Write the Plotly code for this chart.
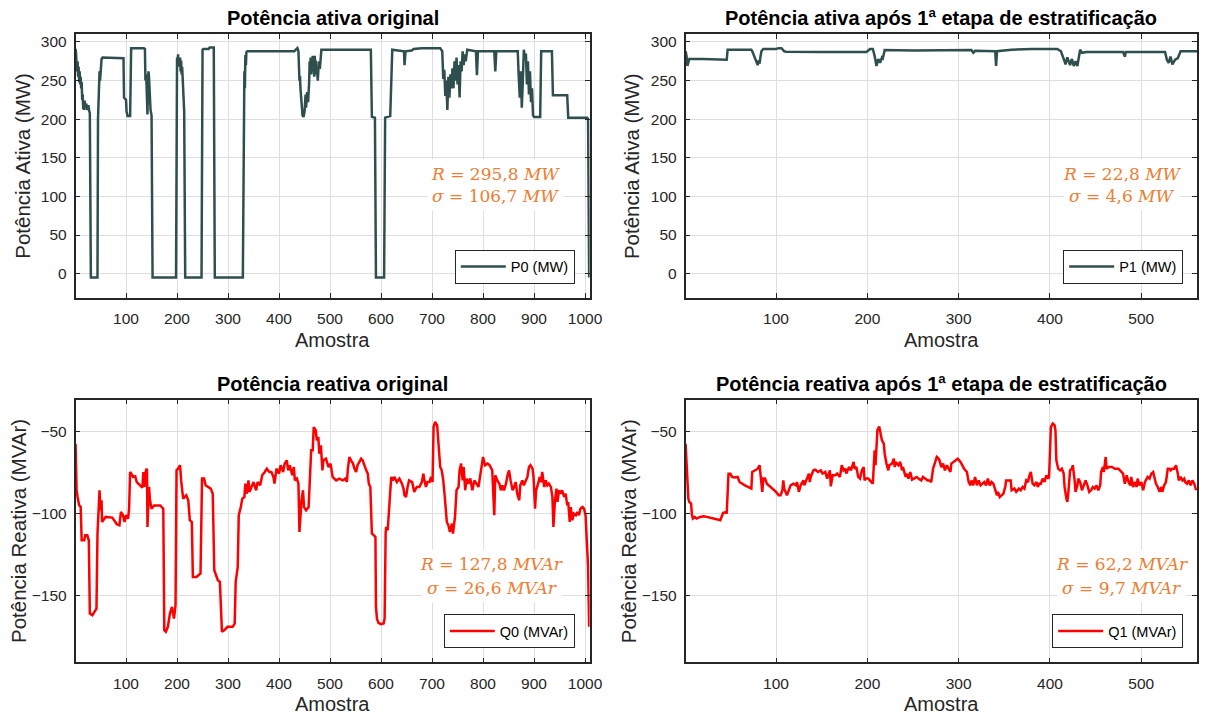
import plotly.graph_objects as go

# ----------------------------- data -----------------------------
p0_x = [1, 2, 3, 4, 5, 6, 7, 8, 9, 10, 11, 12, 13, 14, 15, 16, 17, 18, 19, 20,
        22, 24, 26, 28, 29, 31, 44, 45, 46, 47, 48, 49, 50, 52, 54, 95, 96, 98, 100, 101,
        103, 108, 110, 135, 137, 138, 139, 140, 141, 142, 143, 144, 145, 146, 148, 150, 152, 198, 200, 201,
        202, 203, 204, 205, 206, 207, 208, 209, 210, 211, 212, 214, 216, 248, 250, 252, 262, 264, 272, 274,
        329, 331, 332, 333, 334, 335, 336, 338, 430, 436, 438, 440, 441, 442, 444, 446, 448, 450, 452, 453,
        455, 457, 459, 460, 461, 462, 463, 464, 465, 466, 467, 468, 469, 470, 471, 472, 473, 474, 476, 478,
        480, 483, 580, 582, 588, 590, 606, 608, 618, 622, 645, 646, 648, 660, 664, 680, 700, 716, 720, 722,
        724, 726, 728, 730, 732, 734, 736, 738, 740, 742, 744, 746, 748, 750, 752, 754, 756, 758, 760, 762,
        764, 766, 769, 786, 788, 790, 822, 824, 826, 868, 870, 872, 874, 876, 878, 880, 882, 884, 886, 888,
        890, 892, 894, 896, 898, 900, 912, 914, 935, 937, 965, 967, 1004, 1006, 1008]
p0_y = [291, 285, 270, 262, 275, 255, 268, 248, 262, 245, 255, 240, 248, 225, 232, 213, 222, 212, 224, 215,
        220, 212, 218, 210, 208, -5, -5, 200, 230, 245, 262, 250, 265, 278, 280, 279, 228, 226, 225, 210,
        204, 204, 292, 292, 291, 250, 258, 248, 225, 206, 250, 262, 255, 235, 212, 205, -5, -5, 280, 272,
        284, 268, 278, 270, 280, 262, 276, 258, 268, 252, 248, 210, -5, -5, 290, 291, 291, 293, 293, -5,
        -5, 220, 262, 240, 283, 270, 287, 288, 288, 292, 288, 250, 256, 240, 225, 205, 203, 210, 232, 215,
        235, 222, 248, 275, 260, 280, 258, 273, 268, 282, 262, 270, 255, 282, 264, 276, 258, 266, 250, 275,
        265, 290, 290, 203, 202, -5, -5, 202, 204, 290, 288, 270, 288, 289, 291, 292, 292, 292, 288, 252,
        264, 230, 250, 212, 255, 228, 258, 240, 266, 240, 275, 250, 280, 245, 270, 228, 275, 262, 288, 270,
        284, 275, 290, 288, 257, 288, 288, 262, 288, 288, 255, 228, 262, 215, 250, 290, 280, 285, 245, 275,
        232, 262, 222, 240, 205, 203, 203, 288, 288, 231, 231, 202, 202, 200, -5]

p1_x = [1, 2, 3, 4, 5, 20, 35, 46, 47, 60, 73, 74, 77, 79, 80, 81, 82, 83, 84, 86,
        100, 103, 106, 109, 111, 150, 199, 203, 206, 208, 210, 212, 214, 216, 217, 219, 250, 314, 316, 318,
        340, 341, 342, 358, 380, 408, 412, 416, 417, 419, 422, 424, 426, 428, 430, 433, 435, 440, 480, 482,
        483, 526, 528, 530, 532, 534, 537, 540, 543, 561]
p1_y = [288, 282, 269, 276, 278, 278, 277.5, 277, 290, 290, 290, 288, 280, 273, 270, 276, 272, 281, 288, 291,
        291, 292, 292, 288, 287.5, 287, 287, 291, 291, 282, 269, 278, 273, 280, 279, 289.5, 289, 289.5, 286, 288.5,
        288, 269, 288, 290, 291, 291, 288, 275, 271, 280, 270, 278, 269, 275, 269, 290, 286, 287, 287, 281,
        287, 287, 277, 273, 281, 271, 277, 279, 288, 288]

q0_x = [1, 2, 3, 5, 8, 11, 13, 18, 20, 24, 27, 29, 34, 38, 42, 44, 46, 48, 50, 52,
        53, 60, 73, 82, 87, 90, 94, 97, 100, 104, 106, 108, 114, 118, 121, 128, 132, 134, 136, 139,
        141, 142, 145, 147, 150, 155, 167, 173, 175, 178, 182, 186, 190, 194, 197, 199, 202, 206, 208, 212,
        215, 218, 222, 225, 229, 231, 238, 246, 249, 253, 256, 260, 266, 270, 273, 280, 284, 288, 293, 299,
        309, 313, 315, 319, 321, 325, 328, 332, 334, 337, 340, 342, 346, 350, 355, 358, 363, 367, 372, 376,
        381, 385, 389, 391, 395, 400, 403, 408, 411, 415, 418, 421, 426, 429, 431, 435, 438, 440, 444, 447,
        449, 453, 458, 461, 463, 466, 468, 472, 474, 477, 479, 482, 485, 487, 492, 497, 501, 505, 512, 518,
        525, 530, 533, 535, 538, 541, 545, 548, 551, 554, 558, 561, 564, 567, 571, 574, 576, 579, 580, 582,
        586, 589, 590, 592, 595, 600, 605, 607, 609, 610, 613, 616, 620, 623, 626, 631, 636, 641, 644, 646,
        649, 652, 655, 661, 665, 670, 675, 680, 683, 685, 688, 691, 695, 698, 701, 703, 706, 710, 713, 716,
        719, 722, 725, 729, 732, 735, 739, 741, 745, 748, 752, 754, 757, 760, 762, 765, 768, 771, 775, 779,
        783, 787, 791, 794, 798, 800, 804, 809, 813, 818, 822, 824, 828, 832, 835, 838, 841, 845, 848, 851,
        854, 858, 861, 864, 867, 871, 873, 877, 880, 884, 887, 890, 893, 897, 899, 902, 904, 908, 911, 914,
        916, 920, 923, 926, 929, 933, 936, 938, 941, 944, 946, 949, 952, 955, 959, 962, 965, 967, 970, 972,
        975, 978, 982, 985, 988, 991, 995, 998, 1001, 1004, 1006, 1008]
q0_y = [-57.5, -71.7, -85.8, -89.9, -94.9, -95.9, -116.2, -116.2, -113.2, -113.2, -116.2, -160.7, -161.7, -159.7, -157.7, -112.1, -93.9, -85.8, -98.0, -91.9,
        -105.1, -102.0, -102.4, -106.5, -107.1, -99.0, -101.0, -105.1, -101.0, -103.0, -97.0, -74.7, -77.7, -77.3, -80.8, -82.8, -84.2, -74.7, -83.8, -73.7,
        -72.7, -108.1, -83.8, -91.9, -97.0, -95.0, -95.0, -97.0, -170.8, -171.8, -168.8, -160.7, -156.7, -163.8, -155.7, -73.7, -72.7, -70.6, -79.8, -90.9,
        -89.9, -88.9, -91.9, -104.0, -105.1, -138.5, -138.5, -136.4, -78.7, -78.7, -82.8, -83.8, -84.8, -87.9, -134.4, -140.5, -141.5, -171.8, -170.8, -168.8,
        -168.8, -166.8, -141.5, -132.4, -101.0, -96.0, -90.9, -89.9, -81.8, -87.9, -79.8, -86.8, -83.8, -80.8, -85.8, -80.8, -82.8, -76.7, -74.7, -72.7,
        -74.7, -74.7, -77.7, -81.8, -72.7, -75.7, -70.6, -74.7, -69.6, -67.6, -73.7, -70.6, -76.7, -71.7, -79.8, -78.7, -81.8, -111.1, -91.9, -85.8,
        -96.0, -98.0, -96.0, -77.7, -61.5, -61.5, -47.4, -49.4, -55.5, -53.5, -63.6, -58.5, -73.7, -67.6, -66.6, -71.7, -69.6, -77.7, -79.8, -78.7,
        -79.8, -78.7, -80.8, -72.7, -65.6, -67.6, -69.6, -72.7, -74.7, -70.6, -68.6, -66.6, -67.6, -70.6, -73.7, -75.7, -81.8, -83.8, -91.9, -112.1,
        -113.2, -114.2, -156.7, -163.8, -166.4, -167.2, -166.8, -163.8, -112.1, -108.1, -110.1, -98.0, -77.7, -79.8, -77.7, -80.8, -78.7, -81.8, -84.8, -88.9,
        -89.9, -83.8, -79.8, -80.8, -86.8, -83.8, -83.8, -80.8, -75.7, -79.8, -83.8, -80.8, -80.8, -77.7, -80.8, -47.4, -44.3, -46.4, -59.5, -71.7,
        -73.7, -79.8, -89.9, -105.1, -107.1, -111.1, -106.1, -112.1, -102.0, -85.8, -83.8, -73.7, -69.6, -79.8, -71.7, -85.8, -78.7, -81.8, -78.7, -85.8,
        -79.8, -81.8, -83.8, -77.7, -69.6, -65.6, -70.6, -69.6, -70.6, -73.7, -101.0, -76.7, -79.8, -81.8, -85.8, -82.8, -85.8, -81.8, -76.7, -73.7,
        -79.8, -85.8, -83.8, -80.8, -87.9, -91.9, -82.8, -79.8, -82.8, -79.8, -77.7, -71.7, -70.6, -72.7, -77.7, -97.0, -85.8, -81.8, -77.7, -80.8,
        -74.7, -83.8, -79.8, -82.8, -81.8, -83.8, -89.9, -108.1, -91.9, -84.8, -92.9, -85.8, -87.9, -85.8, -89.9, -87.9, -95.0, -93.0, -105.1, -96.0,
        -104.0, -100.0, -101.0, -99.0, -101.0, -97.0, -96.0, -97.0, -101.0, -120.2, -132.4, -168.8]

q1_x = [1, 2, 3, 4, 5, 7, 8, 9, 11, 13, 17, 21, 24, 28, 31, 35, 39, 40, 42, 45,
        46, 48, 50, 52, 54, 58, 60, 66, 71, 73, 74, 77, 80, 82, 83, 85, 86, 88, 90, 92,
        95, 97, 100, 103, 105, 107, 108, 109, 112, 114, 116, 119, 122, 123, 125, 127, 130, 131, 134, 136,
        137, 138, 141, 143, 146, 149, 151, 154, 156, 159, 160, 162, 165, 167, 170, 172, 174, 176, 177, 180,
        182, 185, 186, 188, 190, 192, 194, 196, 197, 198, 201, 203, 206, 207, 208, 209, 210, 211, 213, 214,
        216, 218, 219, 221, 223, 224, 227, 229, 230, 231, 234, 236, 238, 239, 242, 243, 245, 247, 249, 251,
        254, 256, 259, 261, 263, 266, 268, 270, 272, 273, 276, 278, 279, 281, 283, 285, 287, 289, 291, 292,
        294, 297, 299, 302, 304, 306, 309, 311, 313, 314, 316, 318, 320, 322, 324, 326, 328, 330, 332, 334,
        336, 338, 340, 342, 343, 345, 347, 349, 351, 352, 355, 357, 358, 361, 363, 366, 368, 370, 372, 374,
        376, 377, 379, 381, 383, 385, 387, 388, 390, 392, 394, 396, 398, 399, 401, 403, 405, 406, 407, 409,
        411, 413, 415, 416, 418, 419, 420, 422, 424, 425, 427, 428, 430, 431, 433, 435, 437, 439, 441, 443,
        445, 447, 449, 451, 453, 455, 456, 458, 459, 461, 462, 464, 468, 471, 475, 478, 480, 482, 484, 486,
        488, 489, 491, 493, 495, 496, 498, 500, 502, 504, 505, 507, 509, 511, 513, 514, 516, 518, 520, 522,
        523, 525, 527, 529, 531, 532, 534, 536, 538, 540, 541, 543, 545, 547, 548, 550, 552, 554, 556, 558,
        560]
q1_y = [-57.5, -69.6, -81.8, -90.9, -92.9, -93.9, -101.0, -103.0, -102.0, -103.0, -102.0, -101.6, -102.0, -102.4, -103.0, -103.4, -104.0, -102.0, -99.6, -99.0,
        -100.0, -75.7, -75.7, -77.7, -78.1, -77.7, -80.8, -82.8, -84.2, -84.8, -74.7, -73.7, -72.7, -70.6, -77.7, -86.8, -78.7, -78.7, -81.8, -82.8,
        -83.8, -84.8, -86.8, -88.9, -88.9, -85.8, -79.8, -84.8, -88.9, -85.8, -82.8, -81.8, -82.8, -80.8, -86.8, -82.8, -79.8, -82.8, -78.7, -75.7,
        -80.8, -77.7, -73.7, -73.3, -74.7, -73.7, -75.7, -74.7, -78.7, -73.7, -83.4, -76.7, -76.7, -75.7, -77.7, -70.6, -73.7, -72.7, -75.7, -71.7,
        -73.7, -68.6, -72.7, -71.7, -77.7, -78.7, -73.7, -71.7, -79.8, -78.7, -78.7, -79.8, -81.8, -71.7, -61.5, -70.6, -59.5, -49.4, -47.0, -49.4,
        -55.5, -57.5, -63.6, -69.6, -73.7, -70.6, -69.6, -66.6, -71.7, -68.6, -70.6, -68.6, -73.7, -71.7, -77.7, -75.7, -78.7, -74.7, -79.3, -78.7,
        -77.7, -78.7, -79.8, -77.7, -78.7, -79.8, -79.8, -80.8, -72.7, -70.6, -65.6, -66.6, -67.6, -71.7, -69.6, -73.7, -70.6, -72.7, -74.7, -69.6,
        -68.6, -67.6, -66.6, -68.6, -70.6, -72.7, -74.7, -80.8, -82.8, -79.8, -82.8, -77.7, -82.8, -79.8, -82.8, -81.8, -80.8, -82.8, -78.7, -82.8,
        -80.8, -81.8, -85.8, -88.9, -86.8, -89.9, -88.9, -87.8, -83.8, -79.8, -79.8, -79.8, -85.8, -84.8, -86.8, -84.8, -85.8, -83.8, -84.8, -79.8,
        -80.8, -77.7, -74.7, -81.8, -82.8, -80.8, -83.8, -81.8, -81.8, -78.7, -80.8, -76.7, -78.7, -77.7, -47.4, -45.3, -46.3, -49.4, -67.6, -72.7,
        -73.7, -72.7, -75.7, -83.8, -90.9, -92.9, -87.8, -73.7, -72.7, -70.6, -79.8, -86.8, -82.8, -78.7, -80.8, -85.8, -82.8, -79.8, -82.8, -86.8,
        -85.8, -83.8, -84.8, -82.8, -85.8, -82.8, -74.7, -71.7, -74.7, -65.6, -72.7, -71.7, -71.7, -72.7, -72.7, -74.7, -75.7, -81.8, -76.7, -80.8,
        -82.8, -77.7, -83.8, -80.8, -83.8, -78.7, -82.8, -80.8, -85.8, -80.8, -79.8, -77.7, -78.7, -75.7, -74.7, -77.7, -81.8, -83.8, -86.8, -83.8,
        -86.8, -82.8, -80.8, -72.7, -72.7, -73.7, -72.7, -72.7, -70.6, -75.7, -79.8, -77.7, -79.8, -78.7, -80.8, -81.8, -79.8, -82.8, -79.8, -81.8,
        -85.8]

titles = ["Potência ativa original",
          "Potência ativa após 1ª etapa de estratificação",
          "Potência reativa original",
          "Potência reativa após 1ª etapa de estratificação"]
series_names = ["P0 (MW)", "P1 (MW)", "Q0 (MVAr)", "Q1 (MVAr)"]
x_label = "Amostra"
y_labels = ["Potência Ativa (MW)", "Potência Ativa (MW)",
            "Potência Reativa (MVAr)", "Potência Reativa (MVAr)"]
stats_r = ["<i>R</i> = 295,8 <i>MW</i>", "<i>R</i> = 22,8 <i>MW</i>",
           "<i>R</i> = 127,8 <i>MVAr</i>", "<i>R</i> = 62,2 <i>MVAr</i>"]
stats_s = ["<i>σ</i> = 106,7 <i>MW</i>", "<i>σ</i> = 4,6 <i>MW</i>",
           "<i>σ</i> = 26,6 <i>MVAr</i>", "<i>σ</i> = 9,7 <i>MVAr</i>"]
x_ticks_long = [100, 200, 300, 400, 500, 600, 700, 800, 900, 1000]
x_ticks_short = [100, 200, 300, 400, 500]
p_ticks = [0, 50, 100, 150, 200, 250, 300]
q_ticks = [-150, -100, -50]

# ----------------------------- layout -----------------------------
# the page body adds an 8 px margin, so the figure is drawn 8 px smaller
OFF = 8
W, H = 1211 - OFF, 717 - OFF
def fx(px):
    return (px - OFF) / W
def fy(py):
    return 1 - (py - OFF) / H

P_COLOR = "#2F4F4F"
Q_COLOR = "#FF0000"
ORANGE = "#ED7D31"
TXT = "#262626"
FONT = "Arial, Liberation Sans, sans-serif"
SERIF = "DejaVu Serif, serif"

# panel pixel boxes in the reference: (left, right, top, bottom)
boxes = [(76.3, 596, 33.3, 297), (693, 1210, 33.3, 297),
         (76.3, 596, 399.3, 662.3), (693, 1210, 399.3, 662.3)]

fig = go.Figure()
data = [(p0_x, p0_y, P_COLOR), (p1_x, p1_y, P_COLOR),
        (q0_x, q0_y, Q_COLOR), (q1_x, q1_y, Q_COLOR)]
for i, (xs, ys, col) in enumerate(data):
    sfx = "" if i == 0 else str(i + 1)
    fig.add_trace(go.Scatter(x=xs, y=ys, mode="lines", name=series_names[i],
                             line=dict(color=col, width=2.5),
                             xaxis="x" + sfx, yaxis="y" + sfx,
                             legend="legend" + sfx))

axis_common = dict(showline=True, linecolor=TXT, linewidth=1.5, mirror="ticks",
                   ticks="inside", ticklen=5, tickwidth=1, tickcolor=TXT,
                   showgrid=True, gridcolor="#dedede", gridwidth=1, zeroline=False,
                   tickfont=dict(family=FONT, size=15.5, color=TXT))

x_ranges = [[1, 1009], [1, 561], [1, 1009], [1, 561]]
y_ranges = [[-31, 310], [-31, 310], [-190.4, -30.8], [-190.4, -30.8]]
x_tickvals = [x_ticks_long, x_ticks_short, x_ticks_long, x_ticks_short]
y_tickvals = [p_ticks, p_ticks, q_ticks, q_ticks]

layout = dict(width=W, height=H, margin=dict(l=0, r=0, t=0, b=0),
              paper_bgcolor="white", plot_bgcolor="white", showlegend=True)
annotations = []
legend_pos = [(581, 283), (1196, 283), (581, 648), (1196, 648)]
stats_x = [501, 1134.5, 497, 1134]
stats_y = [(173, 195), (173, 195), (564, 588), (564, 588)]
ytitle_x = [23, 639, 18, 635]

for i, (l, r, t, b) in enumerate(boxes):
    sfx = "" if i == 0 else str(i + 1)
    layout["xaxis" + sfx] = dict(axis_common, domain=[fx(l), fx(r)], range=x_ranges[i],
                                 tickvals=x_tickvals[i], anchor="y" + sfx,
                                 ticklabelstandoff=6)
    layout["yaxis" + sfx] = dict(axis_common, domain=[fy(b), fy(t)], range=y_ranges[i],
                                 tickvals=y_tickvals[i], anchor="x" + sfx,
                                 ticklabelstandoff=4)
    lx, ly = legend_pos[i]
    layout["legend" + sfx] = dict(x=fx(lx), y=fy(ly), xanchor="right", yanchor="bottom",
                                  xref="paper", yref="paper", itemwidth=45,
                                  bgcolor="white", bordercolor=TXT, borderwidth=1,
                                  font=dict(family=FONT, size=14.5, color="black"))
    cx = (l + r) / 2
    annotations.append(dict(text=titles[i], x=fx(cx), y=fy(t - 16), xref="paper", yref="paper",
                            showarrow=False, xanchor="center", yanchor="middle",
                            font=dict(family=FONT, size=20, color="black", weight="bold")))
    annotations.append(dict(text=x_label, x=fx(cx), y=fy(b + 42), xref="paper", yref="paper",
                            showarrow=False, xanchor="center", yanchor="middle",
                            font=dict(family=FONT, size=20, color=TXT)))
    annotations.append(dict(text=y_labels[i], x=fx(ytitle_x[i]), y=fy((t + b) / 2),
                            xref="paper", yref="paper", textangle=-90,
                            showarrow=False, xanchor="center", yanchor="middle",
                            font=dict(family=FONT, size=20.5, color=TXT)))
    for txt, yy in ((stats_r[i], stats_y[i][0]), (stats_s[i], stats_y[i][1])):
        annotations.append(dict(text=txt, x=fx(stats_x[i]), y=fy(yy), xref="paper", yref="paper",
                                showarrow=False, xanchor="center", yanchor="middle",
                                bgcolor="white", borderpad=4,
                                font=dict(family=SERIF, size=17, color=ORANGE)))

layout["annotations"] = annotations
fig.update_layout(**layout)
fig.write_html("out.html")
